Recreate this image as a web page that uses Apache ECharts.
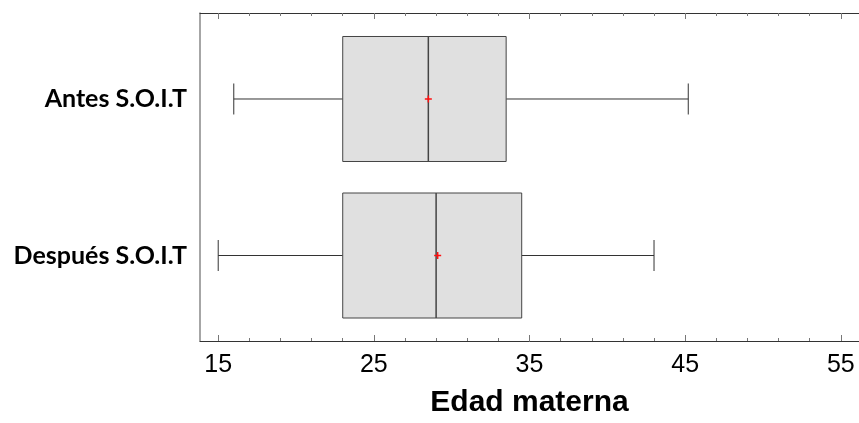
<!DOCTYPE html>
<html>
<head>
<meta charset="utf-8">
<script src="https://cdn.jsdelivr.net/npm/echarts@6/dist/echarts.min.js"></script>
<style>
html, body { margin: 0; padding: 0; background: #fff; }
#chart { width: 859px; height: 423px; }
</style>
</head>
<body>
<div id="chart"></div>
<script>
// grupos (de abajo hacia arriba en el eje y)
var categories = ['Después S.O.I.T', 'Antes S.O.I.T']
// min, Q1, mediana, Q3, max
var whiskerMin = [15, 16]
var q1 = [23, 23]
var median = [29, 28.5]
var q3 = [34.5, 33.5]
var whiskerMax = [43, 45.2]
var means = [29.1, 28.5]
var majorTicks = [15, 25, 35, 45, 55]
var minorTicks = [17, 19, 21, 23, 27, 29, 31, 33, 37, 39, 41, 43, 47, 49, 51, 53]

var data = []
for (var i = 0; i < categories.length; i++) {
    data.push([i + 1, whiskerMin[i], q1[i], median[i], q3[i], whiskerMax[i], means[i]])
}

var myChart = echarts.init(document.getElementById('chart'))

function renderBox(params, api) {
    var y = api.value(0)
    var pMin = api.coord([api.value(1), y])
    var pQ1 = api.coord([api.value(2), y])
    var pMed = api.coord([api.value(3), y])
    var pQ3 = api.coord([api.value(4), y])
    var pMax = api.coord([api.value(5), y])
    var pMean = api.coord([api.value(6), y])
    var cy = pMed[1]
    var boxHalf = 62.5
    var capHalf = 15.5
    var lineStyle = { stroke: '#333', lineWidth: 1, fill: null }
    return {
        type: 'group',
        children: [
            { type: 'line', shape: { x1: pMin[0], y1: cy, x2: pQ1[0], y2: cy }, style: lineStyle },
            { type: 'line', shape: { x1: pQ3[0], y1: cy, x2: pMax[0], y2: cy }, style: lineStyle },
            { type: 'line', shape: { x1: pMin[0], y1: cy - capHalf, x2: pMin[0], y2: cy + capHalf }, style: lineStyle },
            { type: 'line', shape: { x1: pMax[0], y1: cy - capHalf, x2: pMax[0], y2: cy + capHalf }, style: lineStyle },
            { type: 'rect', shape: { x: pQ1[0], y: cy - boxHalf, width: pQ3[0] - pQ1[0], height: boxHalf * 2 },
              style: { fill: '#e0e0e0', stroke: '#444', lineWidth: 1 } },
            { type: 'line', shape: { x1: pMed[0], y1: cy - boxHalf, x2: pMed[0], y2: cy + boxHalf },
              style: { stroke: '#444', lineWidth: 1.5 } },
            { type: 'line', shape: { x1: pMean[0] - 3.5, y1: cy, x2: pMean[0] + 3.5, y2: cy },
              style: { stroke: '#ff1010', lineWidth: 1.5 } },
            { type: 'line', shape: { x1: pMean[0], y1: cy - 3.5, x2: pMean[0], y2: cy + 3.5 },
              style: { stroke: '#ff1010', lineWidth: 1.5 } }
        ]
    }
}

var xMin = 13.83
var xMax = 56.17

function tickAxis(pos, values, len, showLine, showLabel) {
    return {
        type: 'value',
        position: pos,
        min: xMin,
        max: xMax,
        axisLine: { show: showLine, onZero: false, lineStyle: { color: '#333', width: 1 } },
        axisTick: { show: true, inside: true, length: len, customValues: values, lineStyle: { color: '#777', width: 1 } },
        axisLabel: showLabel ? {
            customValues: majorTicks,
            margin: 12,
            color: '#000',
            fontFamily: 'Liberation Sans, Arial, sans-serif',
            fontSize: 25
        } : { show: false },
        splitLine: { show: false }
    }
}

var xMain = tickAxis('bottom', majorTicks, 6, true, true)
xMain.name = 'Edad materna'
xMain.nameLocation = 'middle'
xMain.nameGap = 47
xMain.nameTextStyle = { color: '#000', fontFamily: 'Liberation Sans, Arial, sans-serif', fontWeight: 'bold', fontSize: 30 }

var option = {
    animation: false,
    grid: { left: 200, top: 13, width: 662, height: 328, containLabel: false },
    xAxis: [
        xMain,
        tickAxis('bottom', minorTicks, 3, false, false),
        tickAxis('top', majorTicks, 6, true, false),
        tickAxis('top', minorTicks, 3, false, false)
    ],
    yAxis: {
        type: 'value',
        min: 0.4537,
        max: 2.5495,
        axisLine: { show: true, lineStyle: { color: '#888', width: 1.5 } },
        axisTick: { show: false },
        axisLabel: {
            customValues: [1, 2],
            formatter: function (v) { return categories[Math.round(v) - 1] },
            margin: 13,
            color: '#000',
            fontFamily: 'Lato, Open Sans, sans-serif',
            fontWeight: 'bold',
            fontSize: 25
        },
        splitLine: { show: false }
    },
    series: [{
        type: 'custom',
        xAxisIndex: 0,
        yAxisIndex: 0,
        renderItem: renderBox,
        encode: { x: [1, 2, 3, 4, 5, 6], y: 0 },
        data: data
    }]
}
myChart.setOption(option)
</script>
</body>
</html>
